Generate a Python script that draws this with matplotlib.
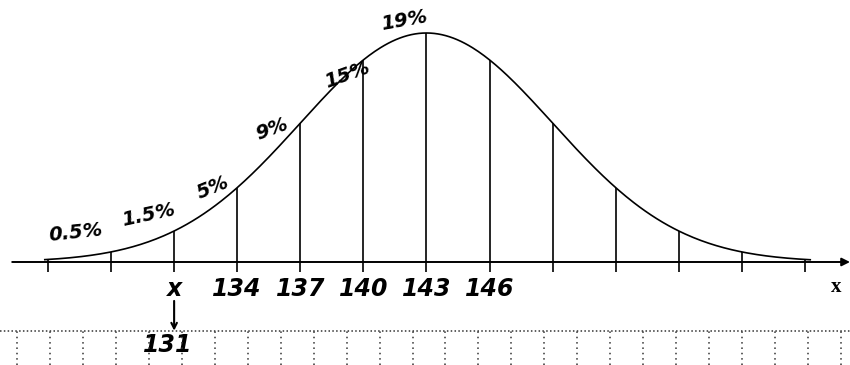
import numpy as np
import matplotlib.pyplot as plt
from matplotlib.lines import Line2D

# Datos de la curva normal
media = 143
sigma = 6
marcas = [125, 128, 131, 134, 137, 140, 143, 146, 149, 152, 155, 158, 161]
etiquetas = ['', '', 'x', '134', '137', '140', '143', '146', '', '', '', '', '']
porcentajes = ['0.5%', '1.5%', '5%', '9%', '15%', '19%']
centros = [126.5, 129.5, 132.5, 135.5, 138.5, 141.5]

# Desplazamientos (puntos) y giros de los porcentajes
desplaz = [(-3, 17), (4, 21), (5, 18), (2, 20), (11, 10), (7, 14)]
giros = [6, 12, 22, 20, 20, 10]


def curva(x):
    # densidad normal relativa al máximo
    return np.exp(-0.5 * ((np.asarray(x) - media) / sigma) ** 2)


fig = plt.figure(figsize=(8.5, 3.65), dpi=100)
ax = fig.add_axes([0, 0, 1, 1])
ax.set_xlim(122.72, 163.14)
ax.set_ylim(-0.4498, 1.1441)
ax.axis('off')

mano = dict(family='DejaVu Sans', style='italic', weight='bold', color='black')

# Eje x con flecha
ax.annotate('', xy=(163.14, 0), xytext=(123.3, 0),
            arrowprops=dict(arrowstyle='-|>', color='black', lw=1.4,
                            mutation_scale=12, shrinkA=0, shrinkB=0))
ax.text(162.5, -0.065, 'x', family='Liberation Serif', weight='bold',
        fontsize=15, ha='center', va='top')

# Curva
xs = np.linspace(124.85, 161.25, 400)
ax.plot(xs, curva(xs), color='black', lw=1.2)

# Líneas verticales
ax.vlines(marcas, -0.044, curva(marcas), color='black', lw=1.2)

# Etiquetas bajo el eje
for m, t in zip(marcas, etiquetas):
    if t:
        ax.text(m, -0.065, t, fontsize=17, ha='center', va='top', **mano)

# Flecha hacia 131
ax.annotate('', xy=(131, -0.30), xytext=(131, -0.17),
            arrowprops=dict(arrowstyle='->', color='black', lw=1.5,
                            shrinkA=0, shrinkB=0))
ax.text(130.7, -0.31, '131', fontsize=17, ha='center', va='top', **mano)

# Porcentajes sobre la curva
for c, p, d, g in zip(centros, porcentajes, desplaz, giros):
    ax.annotate(p, xy=(c, curva(c)), xytext=d, textcoords='offset points',
                fontsize=14, ha='center', va='center', rotation=g, **mano)

# Cuadrícula punteada del papel
y_linea = 1 - 331 / 365
fig.add_artist(Line2D([0, 1], [y_linea, y_linea], color='#333333',
                      lw=1.1, ls=(0, (1, 1.5)), transform=fig.transFigure))
for k in range(26):
    xf = (17 + 32.96 * k) / 850
    fig.add_artist(Line2D([xf, xf], [0, y_linea], color='#333333',
                          lw=1.1, ls=(0, (1, 2.5)), transform=fig.transFigure))

fig.savefig('out.png', dpi=100)
